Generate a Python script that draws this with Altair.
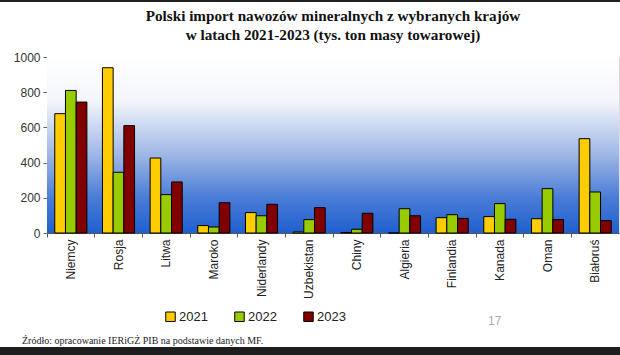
import altair as alt
import pandas as pd

countries = ["Niemcy", "Rosja", "Litwa", "Maroko", "Niderlandy", "Uzbekistan",
             "Chiny", "Algieria", "Finlandia", "Kanada", "Oman", "Białoruś"]
years = ["2021", "2022", "2023"]
v2021 = [678, 939, 426, 42, 116, 6, 3, 0, 87, 93, 81, 536]
v2022 = [810, 345, 218, 34, 98, 76, 21, 138, 104, 167, 252, 233]
v2023 = [744, 610, 290, 172, 163, 144, 112, 98, 83, 78, 76, 70]
colors = ["#FFCC00", "#99CC00", "#800000"]
title_lines = ["Polski import nawozów mineralnych z wybranych krajów",
               "w latach 2021-2023 (tys. ton masy towarowej)"]

rows = []
for i, c in enumerate(countries):
    for y, vals in zip(years, [v2021, v2022, v2023]):
        rows.append({"kraj": c, "rok": y, "wartosc": vals[i]})
df = pd.DataFrame(rows)

W, H = 572, 176
L, T = 47, 57
one = alt.Data(values=[{}])

bg = alt.Chart(one).mark_rect(
    color=alt.LinearGradient(
        gradient="linear", x1=0, x2=0, y1=0, y2=1,
        stops=[
            alt.GradientStop(offset=0, color="#ffffff"),
            alt.GradientStop(offset=0.25, color="#f3f5fb"),
            alt.GradientStop(offset=0.55, color="#a0b8e6"),
            alt.GradientStop(offset=0.8, color="#4a7cd7"),
            alt.GradientStop(offset=1, color="#1f5fcf"),
        ],
    )
).encode(x=alt.value(0), x2=alt.value(W), y=alt.value(0), y2=alt.value(H))

bars = alt.Chart(df).mark_bar(stroke="black", strokeWidth=1).encode(
    x=alt.X("kraj:N", sort=countries, title=None,
            scale=alt.Scale(paddingInner=0, paddingOuter=0),
            axis=alt.Axis(labelAngle=-90, labelFont="Liberation Sans", labelFontSize=12,
                          labelColor="#222222", bandPosition=0, tickSize=4,
                          tickColor="#555555", domainColor="#555555", labelPadding=2,
                          labelBaseline="middle")),
    xOffset=alt.XOffset("rok:N", sort=years,
                        scale=alt.Scale(paddingInner=0, paddingOuter=0.727)),
    y=alt.Y("wartosc:Q", title=None,
            scale=alt.Scale(domain=[0, 1000], nice=False),
            axis=alt.Axis(values=[0, 200, 400, 600, 800, 1000], grid=False, format="d",
                          labelFont="Liberation Sans", labelFontSize=12,
                          labelColor="#333333", tickSize=4, tickColor="#666666",
                          domainColor="#666666", labelPadding=3)),
    color=alt.Color("rok:N", sort=years,
                    scale=alt.Scale(domain=years, range=colors),
                    legend=alt.Legend(orient="none", legendX=117, legendY=253,
                                      direction="horizontal", columns=3, title=None,
                                      symbolType="square", symbolSize=90,
                                      symbolStrokeColor="black", symbolStrokeWidth=1,
                                      labelFont="Liberation Sans", labelFontSize=13,
                                      labelColor="#222222", columnPadding=24,
                                      labelOffset=2)),
)

title1 = alt.Chart(one).mark_text(
    text=title_lines[0], font="Liberation Serif", fontSize=15.2, fontWeight="bold",
    align="center", baseline="middle", color="#111111"
).encode(x=alt.value(W / 2), y=alt.value(16 - T))
title2 = alt.Chart(one).mark_text(
    text=title_lines[1], font="Liberation Serif", fontSize=15.2, fontWeight="bold",
    align="center", baseline="middle", color="#111111"
).encode(x=alt.value(W / 2), y=alt.value(35 - T))

source = alt.Chart(one).mark_text(
    text="Źródło: opracowanie IERiGŻ PIB na podstawie danych MF.",
    font="Liberation Serif", fontSize=10, align="left", baseline="middle", color="#222222"
).encode(x=alt.value(22 - L), y=alt.value(341 - T))

page = alt.Chart(one).mark_text(
    text="17", font="Liberation Sans", fontSize=12, align="left", baseline="middle",
    color="#aaaaaa"
).encode(x=alt.value(488 - L), y=alt.value(321 - T))

top_bar = alt.Chart(one).mark_rect(color="#1e1e1e").encode(
    x=alt.value(-L), x2=alt.value(W + 1), y=alt.value(-T), y2=alt.value(2 - T))
bottom_bar = alt.Chart(one).mark_rect(color="#1e1e1e").encode(
    x=alt.value(-L), x2=alt.value(W + 1), y=alt.value(347 - T), y2=alt.value(355 - T))

chart = alt.layer(bg, bars, title1, title2, source, page, top_bar, bottom_bar).properties(
    width=W, height=H,
    padding={"left": L, "top": T, "right": 1, "bottom": 122},
    autosize=alt.AutoSizeParams(type="none"),
).configure_view(stroke=None).configure(background="white")

chart.save("out.html", embed_options={"renderer": "svg", "actions": False})
